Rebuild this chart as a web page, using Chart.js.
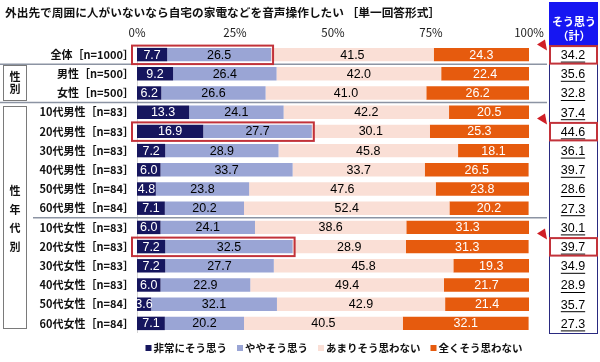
<!DOCTYPE html>
<html><head><meta charset="utf-8">
<script src="https://cdn.jsdelivr.net/npm/chart.js@4/dist/chart.umd.min.js"></script>
<style>html,body{margin:0;padding:0;background:#fff}#wrap{width:600px;height:362px;position:relative}</style>
</head><body><div id="wrap"><canvas id="c" width="600" height="362"></canvas></div>
<script>
const titleText = '外出先で周囲に人がいないなら自宅の家電などを音声操作したい ［単一回答形式］';
const categories = ['全体［n=1000］','男性［n=500］','女性［n=500］','10代男性［n=83］','20代男性［n=83］','30代男性［n=83］','40代男性［n=83］','50代男性［n=84］','60代男性［n=84］','10代女性［n=83］','20代女性［n=83］','30代女性［n=83］','40代女性［n=83］','50代女性［n=84］','60代女性［n=84］'];
const seriesNames = ['非常にそう思う','ややそう思う','あまりそう思わない','全くそう思わない'];
const veryMuch = [7.7,9.2,6.2,13.3,16.9,7.2,6.0,4.8,7.1,6.0,7.2,7.2,6.0,3.6,7.1];
const somewhat = [26.5,26.4,26.6,24.1,27.7,28.9,33.7,23.8,20.2,24.1,32.5,27.7,22.9,32.1,20.2];
const notMuch = [41.5,42.0,41.0,42.2,30.1,45.8,33.7,47.6,52.4,38.6,28.9,45.8,49.4,42.9,40.5];
const notAtAll = [24.3,22.4,26.2,20.5,25.3,18.1,26.5,23.8,20.2,31.3,31.3,19.3,21.7,21.4,32.1];
const totals = [34.2,35.6,32.8,37.4,44.6,36.1,39.7,28.6,27.3,30.1,39.7,34.9,28.9,35.7,27.3];
const totalHeader = ['そう思う','（計）'];
const tickPercents = [0,25,50,75,100];
const highlightRows = [0,4,10];
const groupLabels = [{text:'性別', from:1, to:2}, {text:'性年代別', from:3, to:14}];
const separatorsAfter = [0,2,8];

const CJK = '"Noto Sans CJK JP","Noto Sans",sans-serif';
const NUM = '"Liberation Sans",Arial,sans-serif';

const decorPlugin = {
  id: 'decor',
  beforeDatasetsDraw(chart) {
    const ctx = chart.ctx, xs = chart.scales.x, a = chart.chartArea;
    ctx.save();
    ctx.strokeStyle = '#d4d4d4'; ctx.lineWidth = 1;
    const x0 = Math.round(xs.getPixelForValue(0)) + 0.5;
    ctx.beginPath(); ctx.moveTo(x0, a.top); ctx.lineTo(x0, a.bottom); ctx.stroke();
    ctx.restore();
  },
  afterDatasetsDraw(chart) {
    const ctx = chart.ctx, xs = chart.scales.x, ys = chart.scales.y, a = chart.chartArea;
    const n = categories.length;
    const rowH = (a.bottom - a.top) / n;
    chart.data.datasets.forEach((ds, di) => {
      const meta = chart.getDatasetMeta(di);
      meta.data.forEach((el, i) => {
        const p = el.getProps(['x','base','y'], true);
        ctx.save();
        ctx.font = '12.5px ' + NUM;
        ctx.fillStyle = ds.labelColor;
        ctx.textAlign = 'center'; ctx.textBaseline = 'middle';
        ctx.fillText(ds.data[i].toFixed(1), (p.x + p.base) / 2, p.y + 0.5);
        ctx.restore();
      });
    });
    ctx.save();
    ctx.strokeStyle = '#8c94a3'; ctx.lineWidth = 1.5;
    separatorsAfter.forEach((r, k) => {
      const y = (ys.getPixelForValue(r) + ys.getPixelForValue(r + 1)) / 2;
      ctx.beginPath(); ctx.moveTo(k === 2 ? 33 : 0, y); ctx.lineTo(547, y); ctx.stroke();
    });
    ctx.strokeStyle = '#7a7a7a'; ctx.lineWidth = 1;
    groupLabels.forEach((g, gi) => {
      const top = ys.getPixelForValue(g.from) - rowH / 2 + (gi === 0 ? 1 : 3);
      const bottom = ys.getPixelForValue(g.to) + rowH / 2 - (gi === 0 ? 2 : 5);
      ctx.strokeRect(3.5, Math.round(top) + 0.5, 23, Math.round(bottom - top));
      const chars = Array.from(g.text);
      const step = gi === 0 ? 12 : 18.5;
      const cy = (top + bottom) / 2 + (gi === 0 ? 0 : 2);
      ctx.font = 'bold 11px ' + CJK; ctx.fillStyle = '#111';
      ctx.textAlign = 'center'; ctx.textBaseline = 'middle';
      chars.forEach((c, ci) => ctx.fillText(c, 15, cy + (ci - (chars.length - 1) / 2) * step));
    });
    ctx.fillStyle = '#1616f2';
    ctx.fillRect(549, 2, 49, a.top - 2);
    ctx.fillStyle = '#fff'; ctx.font = 'bold 11px ' + CJK; ctx.textAlign = 'center'; ctx.textBaseline = 'middle';
    ctx.fillText(totalHeader[0], 574, 22);
    ctx.fillText(totalHeader[1], 574, 36);
    ctx.strokeStyle = '#2a2a80'; ctx.lineWidth = 1;
    ctx.strokeRect(549.5, a.top + 0.5, 48, a.bottom - a.top);
    ctx.font = '12.5px ' + NUM; ctx.fillStyle = '#000';
    totals.forEach((v, i) => {
      const y = ys.getPixelForValue(i) + 1;
      const t = v.toFixed(1);
      ctx.fillText(t, 573, y);
      const w = ctx.measureText(t).width;
      ctx.fillRect(573 - w / 2, y + 6, w, 1);
    });
    ctx.strokeStyle = '#c2323a'; ctx.lineWidth = 2; ctx.fillStyle = '#d01f26';
    highlightRows.forEach(r => {
      const c = ys.getPixelForValue(r);
      const x1 = xs.getPixelForValue(0) - 5;
      const x2 = xs.getPixelForValue(veryMuch[r] + somewhat[r]) + 2;
      ctx.strokeRect(x1, c - 9, x2 - x1, 18.5);
      ctx.strokeRect(550, c - 8.5, 47, 17.5);
      const off = r === 0 ? 3 : 0;
      ctx.beginPath();
      ctx.moveTo(545, c - 18 + off);
      ctx.lineTo(537, c - 13 + off);
      ctx.lineTo(547, c - 7 + off);
      ctx.closePath(); ctx.fill();
    });
    ctx.font = 'bold 10.5px ' + CJK; ctx.textAlign = 'left'; ctx.textBaseline = 'middle';
    const items = chart.data.datasets.map(ds => ({n: ds.label, c: ds.backgroundColor, w: 8 + ctx.measureText(ds.label).width}));
    const gap = 10;
    const total = items.reduce((s, it) => s + it.w, 0) + gap * (items.length - 1);
    let lx = 334 - total / 2;
    items.forEach(it => {
      ctx.fillStyle = it.c; ctx.fillRect(lx, 345, 6, 6);
      ctx.fillStyle = '#111'; ctx.fillText(it.n, lx + 8, 348.5);
      lx += it.w + gap;
    });
    ctx.font = 'bold 11.7px ' + CJK; ctx.fillStyle = '#111';
    ctx.fillText(titleText, 5, 13);
    ctx.restore();
  }
};

const palette = ['#16165e','#9aa5d5','#fadfd6','#e65b0e'];
const labelColors = ['#fff','#000','#000','#fff'];
const seriesData = [veryMuch, somewhat, notMuch, notAtAll];

new Chart(document.getElementById('c'), {
  type: 'bar',
  data: {
    labels: categories,
    datasets: seriesNames.map((name, i) => ({
      label: name, data: seriesData[i], backgroundColor: palette[i], labelColor: labelColors[i],
      borderWidth: 0, barPercentage: 0.7, categoryPercentage: 1
    }))
  },
  options: {
    indexAxis: 'y', responsive: false, animation: false, devicePixelRatio: 1,
    layout: {padding: {left: 0, right: 71, top: 0, bottom: 29}},
    plugins: {legend: {display: false}, tooltip: {enabled: false}, title: {display: false}},
    scales: {
      x: {
        position: 'top', stacked: true, min: 0, max: 100,
        afterFit: s => { s.height = 45; },
        afterBuildTicks: s => { s.ticks = tickPercents.map(v => ({value: v})); },
        grid: {display: false, drawTicks: false}, border: {display: false},
        ticks: {padding: 5, color: '#222', font: {size: 11.5, family: CJK}, callback: v => v + '%', maxRotation: 0}
      },
      y: {
        stacked: true,
        afterFit: s => { s.width = 137; },
        grid: {display: false, drawTicks: false}, border: {display: false},
        ticks: {padding: 3, color: '#111', font: {size: 11, weight: 'bold', family: CJK}}
      }
    }
  },
  plugins: [decorPlugin]
});
</script></body></html>
